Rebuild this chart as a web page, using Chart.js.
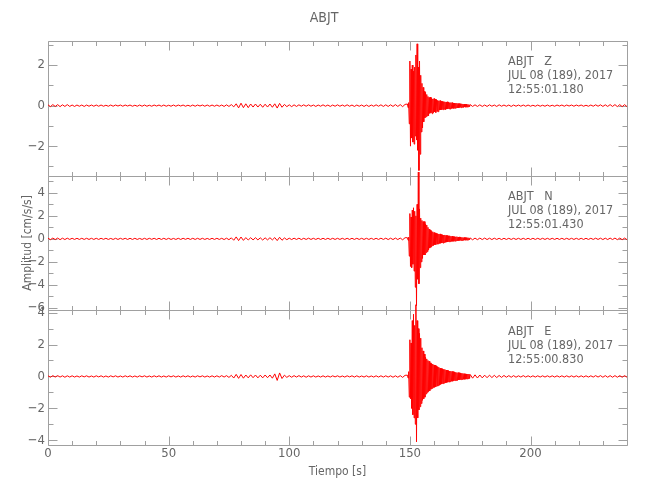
<!DOCTYPE html>
<html>
<head>
<meta charset="utf-8">
<title>ABJT</title>
<script src="https://cdn.jsdelivr.net/npm/chart.js@4/dist/chart.umd.min.js"></script>
<style>
  html, body { margin: 0; padding: 0; background: #fff; }
  canvas { display: block; }
</style>
</head>
<body>
<canvas id="seis" width="650" height="500"></canvas>
<script>
// ABJT three-component accelerogram (Z, N, E)

const STATION = 'ABJT';
const EVENT_DATE = 'JUL 08 (189), 2017';
const COMPONENTS = ['Z', 'N', 'E'];
const START_TIMES = ['12:55:01.180', '12:55:01.430', '12:55:00.830'];

// time axis [s]
const X_MIN = 0;
const X_MAX = 240;
// axis ranges per panel [cm/s/s]
const Y_RANGES = [[-3.45, 3.2], [-6.2, 5.5], [-4.3, 4.15]];

const PRE_START = 0, PRE_DT = 1;
const EVT_START = 149, EVT_DT = 0.25;
const POST_START = 175, POST_DT = 1;

// ---- Z ----
const zPre = [
  0.04,-0.05,0.05,-0.04,0.05,-0.05,0.04,-0.04,0.05,-0.04,
  0.03,-0.04,0.03,-0.03,0.03,-0.04,0.03,-0.03,0.03,-0.03,
  0.03,-0.03,0.03,-0.03,0.02,-0.03,0.03,-0.03,0.03,-0.02,
  0.03,-0.03,0.03,-0.02,0.03,-0.03,0.02,-0.03,0.03,-0.03,
  0.03,-0.03,0.02,-0.03,0.03,-0.02,0.03,-0.03,0.03,-0.03,
  0.02,-0.03,0.03,-0.03,0.03,-0.02,0.03,-0.03,0.02,-0.03,
  0.03,-0.03,0.03,-0.02,0.03,-0.03,0.03,-0.03,0.03,-0.03,
  0.03,-0.03,0.03,-0.04,0.04,-0.04,0.05,-0.06,0.09,-0.11,
  0.12,-0.1,0.09,-0.1,0.08,-0.07,0.08,-0.07,0.07,-0.08,
  0.07,-0.07,0.08,-0.08,0.09,-0.12,0.11,-0.08,0.06,-0.05,
  0.04,-0.05,0.04,-0.04,0.04,-0.03,0.04,-0.03,0.04,-0.03,
  0.03,-0.04,0.03,-0.03,0.04,-0.03,0.03,-0.04,0.03,-0.03,
  0.04,-0.03,0.03,-0.03,0.04,-0.03,0.03,-0.04,0.03,-0.03,
  0.03,-0.04,0.03,-0.04,0.03,-0.03,0.04,-0.03,0.04,-0.04,
  0.04,-0.04,0.04,-0.04,0.05,-0.04,0.05,-0.05,0.06
];
const zEvt = [
  0.08,-0.1,0.15,-0.9,  2.2,-2.0,1.8,-1.6,  2.0,-1.8,1.7,-1.9,  1.9,-1.5,2.5,-1.7,
  3.05,-2.2,1.9,-3.2,  2.2,-2.4,1.5,-1.3,  1.1,-1.1,0.9,-0.8,  0.7,-0.6,0.65,-0.55,
  0.55,-0.5,0.45,-0.5,  0.4,-0.38,0.42,-0.35,  0.36,-0.4,0.33,-0.35,  0.35,-0.3,0.32,-0.34,
  0.3,-0.28,0.26,-0.3,  0.24,-0.22,0.25,-0.21,  0.22,-0.2,0.21,-0.2,  0.2,-0.18,0.19,-0.2,
  0.18,-0.17,0.19,-0.16,  0.17,-0.16,0.15,-0.17,  0.15,-0.14,0.15,-0.13,  0.13,-0.14,0.12,-0.13,
  0.12,-0.11,0.12,-0.11,  0.1,-0.11,0.1,-0.09,  0.09,-0.1,0.09,-0.08,  0.08,-0.09,0.08,-0.07,
  0.07,-0.08,0.07,-0.07,  0.06,-0.06,0.05,-0.05
];
const zPost = [
  0.05,-0.04,0.04,-0.04,0.04,-0.04,0.03,-0.04,0.04,-0.03,
  0.03,-0.04,0.04,-0.03,0.03,-0.03,0.03,-0.04,0.03,-0.03,
  0.03,-0.03,0.03,-0.03,0.03,-0.03,0.02,-0.03,0.03,-0.03,
  0.02,-0.03,0.03,-0.03,0.02,-0.03,0.03,-0.02,0.03,-0.03,
  0.03,-0.02,0.03,-0.03,0.03,-0.02,0.03,-0.03,0.02,-0.03,
  0.03,-0.03,0.04,-0.03,0.04,-0.04,0.04,-0.04,0.05,-0.04,
  0.05,-0.05,0.05,-0.05,0.05,-0.05
];

// ---- N ----
const nPre = [
  0.06,-0.07,0.07,-0.06,0.07,-0.07,0.06,-0.06,0.06,-0.05,
  0.05,-0.05,0.05,-0.05,0.05,-0.05,0.05,-0.05,0.05,-0.05,
  0.05,-0.05,0.05,-0.04,0.05,-0.05,0.04,-0.05,0.05,-0.05,
  0.05,-0.04,0.05,-0.05,0.05,-0.05,0.05,-0.05,0.04,-0.05,
  0.05,-0.05,0.05,-0.04,0.05,-0.05,0.05,-0.05,0.05,-0.05,
  0.05,-0.05,0.04,-0.05,0.05,-0.05,0.05,-0.04,0.05,-0.05,
  0.05,-0.05,0.05,-0.05,0.05,-0.05,0.04,-0.05,0.05,-0.05,
  0.05,-0.05,0.05,-0.06,0.06,-0.07,0.09,-0.12,0.17,-0.15,
  0.16,-0.13,0.11,-0.1,0.1,-0.09,0.1,-0.09,0.09,-0.1,
  0.09,-0.09,0.1,-0.09,0.11,-0.15,0.14,-0.12,0.08,-0.07,
  0.06,-0.06,0.06,-0.05,0.06,-0.06,0.05,-0.05,0.06,-0.05,
  0.05,-0.05,0.05,-0.05,0.05,-0.05,0.05,-0.05,0.05,-0.05,
  0.05,-0.05,0.05,-0.05,0.05,-0.05,0.05,-0.05,0.05,-0.05,
  0.05,-0.05,0.05,-0.05,0.05,-0.05,0.05,-0.05,0.06,-0.05,
  0.06,-0.06,0.06,-0.06,0.07,-0.06,0.07,-0.08,0.1
];
const nEvt = [
  0.1,-0.12,0.15,-1.5,  2.2,-2.4,1.9,-2.5,  2.5,-2.2,2.7,-2.8,  2.4,-4.2,2.0,-5.8,
  3.0,-3.5,5.8,-3.9,  2.6,-2.5,1.8,-2.0,  1.6,-1.7,1.5,-1.4,  1.5,-1.4,1.3,-1.2,
  1.2,-1.1,1.0,-0.95,  0.85,-0.8,0.75,-0.72,  0.65,-0.6,0.62,-0.58,  0.55,-0.5,0.52,-0.5,
  0.48,-0.45,0.46,-0.44,  0.42,-0.4,0.43,-0.38,  0.38,-0.36,0.35,-0.37,  0.33,-0.32,0.34,-0.3,
  0.3,-0.28,0.29,-0.27,  0.26,-0.25,0.27,-0.24,  0.23,-0.22,0.24,-0.21,  0.2,-0.21,0.19,-0.2,
  0.18,-0.17,0.19,-0.16,  0.16,-0.15,0.17,-0.14,  0.14,-0.14,0.13,-0.14,  0.12,-0.13,0.12,-0.11,
  0.11,-0.12,0.1,-0.11,  0.1,-0.1,0.09,-0.08
];
const nPost = [
  0.08,-0.08,0.07,-0.07,0.07,-0.06,0.07,-0.06,0.06,-0.06,
  0.06,-0.05,0.05,-0.06,0.05,-0.05,0.05,-0.05,0.05,-0.05,
  0.05,-0.05,0.05,-0.05,0.05,-0.05,0.05,-0.05,0.05,-0.05,
  0.05,-0.05,0.05,-0.05,0.05,-0.05,0.05,-0.05,0.05,-0.05,
  0.05,-0.05,0.05,-0.05,0.05,-0.05,0.05,-0.05,0.05,-0.05,
  0.05,-0.05,0.06,-0.05,0.06,-0.06,0.06,-0.06,0.07,-0.06,
  0.07,-0.07,0.07,-0.07,0.07,-0.07
];

// ---- E ----
const ePre = [
  0.04,-0.05,0.05,-0.04,0.05,-0.04,0.04,-0.05,0.04,-0.04,
  0.04,-0.04,0.03,-0.04,0.04,-0.03,0.04,-0.04,0.03,-0.04,
  0.04,-0.03,0.04,-0.04,0.03,-0.04,0.04,-0.03,0.04,-0.04,
  0.03,-0.04,0.04,-0.03,0.04,-0.04,0.03,-0.04,0.04,-0.03,
  0.04,-0.04,0.03,-0.04,0.04,-0.03,0.04,-0.04,0.03,-0.04,
  0.04,-0.03,0.04,-0.04,0.03,-0.04,0.04,-0.03,0.04,-0.04,
  0.03,-0.04,0.04,-0.03,0.04,-0.04,0.03,-0.04,0.04,-0.04,
  0.04,-0.04,0.05,-0.04,0.05,-0.06,0.07,-0.1,0.13,-0.12,
  0.12,-0.11,0.09,-0.09,0.1,-0.08,0.09,-0.09,0.08,-0.09,
  0.09,-0.08,0.09,-0.11,0.16,-0.25,0.22,-0.13,0.08,-0.06,
  0.05,-0.05,0.05,-0.04,0.05,-0.04,0.04,-0.05,0.04,-0.04,
  0.04,-0.04,0.03,-0.04,0.04,-0.04,0.03,-0.04,0.04,-0.03,
  0.04,-0.04,0.03,-0.04,0.04,-0.03,0.04,-0.04,0.04,-0.04,
  0.03,-0.04,0.04,-0.04,0.03,-0.04,0.04,-0.04,0.04,-0.04,
  0.04,-0.04,0.04,-0.05,0.04,-0.05,0.05,-0.06,0.07
];
const eEvt = [
  0.08,-0.1,0.3,-1.3,  2.3,-1.4,2.1,-2.0,  3.5,-2.4,3.9,-2.6,  3.2,-3.0,4.5,-4.1,
  3.5,-2.6,3.0,-2.1,  2.7,-1.9,2.4,-1.7,  1.8,-1.5,1.6,-1.4,  1.4,-1.3,1.2,-1.1,
  1.1,-1.0,1.0,-0.95,  0.95,-0.9,0.85,-0.8,  0.8,-0.75,0.78,-0.7,  0.72,-0.68,0.7,-0.65,
  0.66,-0.6,0.62,-0.58,  0.58,-0.55,0.52,-0.5,  0.5,-0.47,0.48,-0.45,  0.45,-0.42,0.44,-0.4,
  0.4,-0.38,0.39,-0.36,  0.36,-0.35,0.34,-0.33,  0.33,-0.3,0.31,-0.3,  0.3,-0.27,0.28,-0.26,
  0.26,-0.25,0.24,-0.25,  0.24,-0.22,0.23,-0.21,  0.21,-0.2,0.2,-0.19,  0.19,-0.18,0.17,-0.18,
  0.16,-0.17,0.15,-0.16,  0.15,-0.14,0.15,-0.13
];
const ePost = [
  0.12,-0.11,0.1,-0.1,0.09,-0.09,0.08,-0.08,0.08,-0.07,
  0.07,-0.07,0.06,-0.06,0.06,-0.05,0.05,-0.05,0.05,-0.05,
  0.04,-0.04,0.05,-0.04,0.04,-0.04,0.04,-0.04,0.04,-0.04,
  0.04,-0.04,0.04,-0.04,0.04,-0.04,0.04,-0.04,0.04,-0.04,
  0.04,-0.04,0.04,-0.04,0.04,-0.04,0.04,-0.04,0.04,-0.04,
  0.04,-0.04,0.05,-0.04,0.05,-0.05,0.05,-0.05,0.05,-0.05,
  0.05,-0.05,0.05,-0.05,0.05,-0.05
];

const FONT = "'Liberation Sans Narrow', 'DejaVu Sans Condensed', sans-serif";
const TEXT_COLOR = '#666666';
const FRAME_COLOR = '#a0a0a0';
const TRACE_COLOR = '#ff0000';

// join the three sampled segments into {x, y} points
function buildTrace(pre, evt, post) {
  const pts = [];
  pre.forEach((v, i) => pts.push({ x: PRE_START + i * PRE_DT, y: v }));
  evt.forEach((v, i) => pts.push({ x: EVT_START + i * EVT_DT, y: v }));
  post.forEach((v, i) => pts.push({ x: POST_START + i * POST_DT, y: v }));
  return pts;
}

const traces = [
  buildTrace(zPre, zEvt, zPost),
  buildTrace(nPre, nEvt, nPost),
  buildTrace(ePre, eEvt, ePost)
];
const axisIds = ['yZ', 'yN', 'yE'];

function minusSign(v) {
  return String(v).replace('-', '\u2212');
}

function panelAxis(idx, withTitle) {
  return {
    type: 'linear',
    position: 'left',
    stack: 'panels',
    stackWeight: 1,
    min: Y_RANGES[idx][0],
    max: Y_RANGES[idx][1],
    grid: { display: false, drawTicks: false },
    border: { display: false },
    ticks: {
      stepSize: 1,
      includeBounds: false,
      autoSkip: false,
      padding: 3,
      color: TEXT_COLOR,
      font: { family: FONT, size: 13 },
      callback: v => (Math.abs(v % 2) < 1e-9 ? minusSign(v) : '')
    },
    title: {
      display: withTitle,
      text: 'Amplitud [cm/s/s]',
      color: TEXT_COLOR,
      font: { family: FONT, size: 12 },
      padding: { top: 0, bottom: 0 }
    },
    afterFit: s => { s.width = 27; }
  };
}

// pgplot-like box: frame, inward ticks on all four sides, header text
const framePlugin = {
  id: 'frame',
  beforeDatasetsDraw(chart) {
    const { ctx, chartArea, scales } = chart;
    const xs = scales.x;
    ctx.save();
    ctx.strokeStyle = FRAME_COLOR;
    ctx.lineWidth = 1;
    axisIds.forEach(id => {
      const ys = scales[id];
      const top = Math.round(ys.top) + 0.5;
      const bot = Math.round(ys.bottom) + 0.5;
      const l = Math.round(chartArea.left) + 0.5;
      const r = Math.round(chartArea.right) + 0.5;
      ctx.beginPath();
      ctx.rect(l, top, r - l, bot - top);
      xs.ticks.forEach(t => {
        const px = Math.round(xs.getPixelForValue(t.value)) + 0.5;
        const len = t.value % 50 === 0 ? 9 : 4.5;
        ctx.moveTo(px, top); ctx.lineTo(px, top + len);
        ctx.moveTo(px, bot); ctx.lineTo(px, bot - len);
      });
      ys.ticks.forEach(t => {
        const py = Math.round(ys.getPixelForValue(t.value)) + 0.5;
        const len = Math.abs(t.value % 2) < 1e-9 ? 9 : 5;
        ctx.moveTo(l, py); ctx.lineTo(l + len, py);
        ctx.moveTo(r, py); ctx.lineTo(r - len, py);
      });
      ctx.stroke();
    });
    ctx.restore();
  },
  afterDraw(chart) {
    const { ctx, chartArea, scales } = chart;
    ctx.save();
    ctx.fillStyle = TEXT_COLOR;
    ctx.font = '12.5px ' + FONT;
    ctx.textBaseline = 'middle';
    ctx.textAlign = 'left';
    axisIds.forEach((id, i) => {
      const ys = scales[id];
      const x = chartArea.right - 119;
      ctx.fillText(STATION + '   ' + COMPONENTS[i], x, ys.top + 21);
      ctx.fillText(EVENT_DATE, x, ys.top + 35);
      ctx.fillText(START_TIMES[i], x, ys.top + 49);
    });
    ctx.restore();
  }
};

const ctx = document.getElementById('seis').getContext('2d');

new Chart(ctx, {
  type: 'line',
  data: {
    datasets: traces.map((pts, i) => ({
      label: STATION + ' ' + COMPONENTS[i],
      data: pts,
      yAxisID: axisIds[i],
      borderColor: TRACE_COLOR,
      borderWidth: 1,
      pointRadius: 0,
      fill: false,
      tension: 0,
      clip: false
    }))
  },
  options: {
    responsive: false,
    animation: false,
    parsing: false,
    events: [],
    layout: { padding: { top: 0, right: 23, bottom: 0, left: 21 } },
    plugins: {
      legend: { display: false },
      tooltip: { enabled: false },
      title: {
        display: true,
        text: STATION,
        color: TEXT_COLOR,
        font: { family: FONT, size: 14, weight: 'normal' },
        padding: { top: 10, bottom: 14 }
      }
    },
    scales: {
      x: {
        type: 'linear',
        min: X_MIN,
        max: X_MAX,
        grid: { display: false, drawTicks: false },
        border: { display: false },
        ticks: {
          stepSize: 10,
          autoSkip: false,
          maxRotation: 0,
          padding: 1,
          color: TEXT_COLOR,
          font: { family: FONT, size: 13 },
          callback: v => (v % 50 === 0 ? v : '')
        },
        title: {
          display: true,
          text: 'Tiempo [s]',
          color: TEXT_COLOR,
          font: { family: FONT, size: 12 },
          padding: { top: 0, bottom: 21 }
        },
        afterFit: s => { s.height = 55; }
      },
      yE: panelAxis(2, false),
      yN: panelAxis(1, true),
      yZ: panelAxis(0, false)
    }
  },
  plugins: [framePlugin]
});
</script>
</body>
</html>
